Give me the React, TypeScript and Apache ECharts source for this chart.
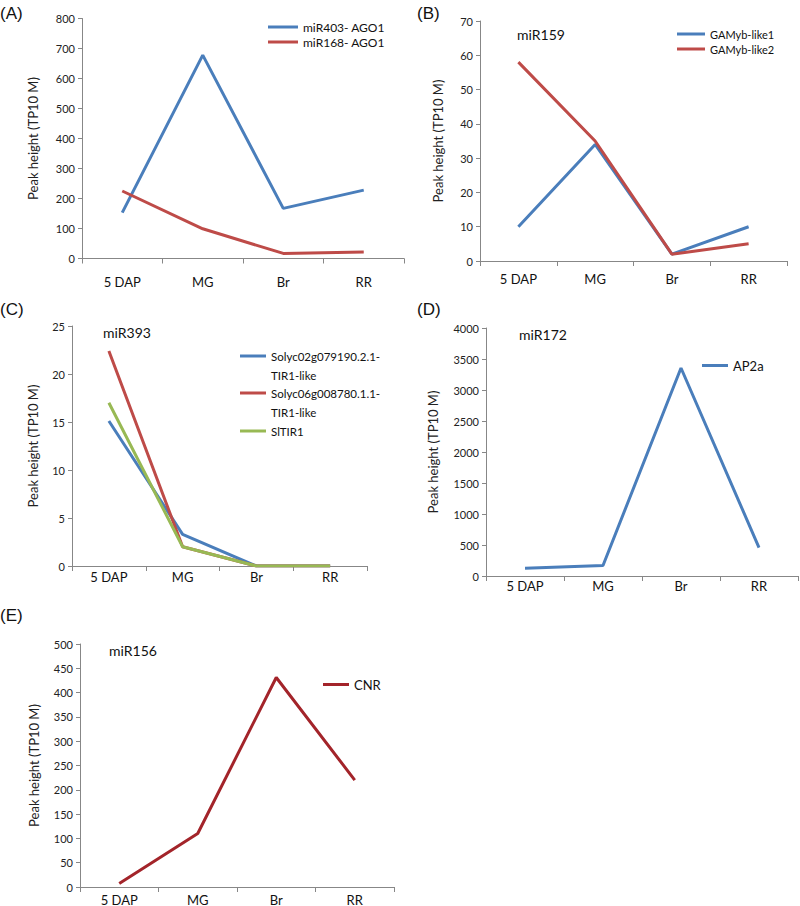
import React, { useEffect, useRef } from "react";
import * as echarts from "echarts";

const categories = ["5 DAP", "MG", "Br", "RR"];
const yAxisName = "Peak height (TP10 M)";

// (A)
const miR403AGO1 = [153, 678, 167, 228];
const miR168AGO1 = [225, 99, 17, 22];
// (B)
const gamybLike1 = [10, 34, 2, 10];
const gamybLike2 = [58, 35, 2, 5];
// (C)
const solyc02TIR1 = [15.1, 3.3, 0, 0];
const solyc06TIR1 = [22.4, 2, 0, 0];
const slTIR1 = [17, 2, 0, 0];
// (D)
const ap2a = [125, 170, 3355, 458];
// (E)
const cnr = [7, 110, 431, 220];

const panelLetters = ["(A)", "(B)", "(C)", "(D)", "(E)"];
const mirLabels = ["miR159", "miR393", "miR172", "miR156"];

const BLUE = "#4a7ebb";
const RED = "#be4b48";
const GREEN = "#98b954";
const DARKRED = "#a3242a";
const AXIS = "#878787";
const FONT = "Lato";

const C_NAME1 = "Solyc02g079190.2.1-TIR1-like";
const C_NAME2 = "Solyc06g008780.1.1-TIR1-like";
const C_DISPLAY: Record<string, string> = {
  [C_NAME1]: "\nSolyc02g079190.2.1-\nTIR1-like",
  [C_NAME2]: "\nSolyc06g008780.1.1-\nTIR1-like",
};

function xAxis(gridIndex: number, margin: number) {
  return {
    type: "category",
    gridIndex,
    data: categories,
    boundaryGap: true,
    axisLine: { show: true, lineStyle: { color: AXIS, width: 1 } },
    axisTick: { show: true, length: 5, lineStyle: { color: AXIS } },
    axisLabel: { interval: 0, margin, fontSize: 13, color: "#111", fontFamily: FONT },
    splitLine: { show: false },
  };
}

function yAxis(gridIndex: number, max: number, interval: number, nameGap: number) {
  return {
    type: "value",
    gridIndex,
    min: 0,
    max,
    interval,
    name: yAxisName,
    nameLocation: "middle",
    nameRotate: 90,
    nameGap,
    nameTextStyle: { fontSize: 13, color: "#222", fontFamily: FONT },
    axisLine: { show: true, lineStyle: { color: AXIS, width: 1 } },
    axisTick: { show: true, length: 4, lineStyle: { color: AXIS } },
    axisLabel: {
      margin: 7,
      fontSize: 11,
      color: "#222",
      fontFamily: FONT,
      formatter: (v: number) => String(v),
    },
    splitLine: { show: false },
  };
}

function line(name: string, data: number[], color: string, idx: number) {
  return {
    type: "line",
    name,
    data,
    xAxisIndex: idx,
    yAxisIndex: idx,
    symbol: "none",
    lineStyle: { color, width: 3 },
    itemStyle: { color },
  };
}

function text(t: string, x: number, y: number, size: number, family = FONT) {
  return {
    type: "text",
    x,
    y,
    style: { text: t, fontSize: size, fontFamily: family, fill: "#111", verticalAlign: "middle", align: "left" },
  };
}

function legendBase(extra: any) {
  return {
    orient: "vertical",
    padding: 0,
    icon: "rect",
    itemHeight: 3,
    selectedMode: false,
    textStyle: { fontFamily: FONT, color: "#111" },
    ...extra,
  };
}

export default function App() {
  const ref = useRef<HTMLDivElement>(null);
  useEffect(() => {
    if (!ref.current) return;
    const chart = echarts.init(ref.current, undefined, { renderer: "svg" });
    const option: any = {
      animation: false,
      backgroundColor: "#ffffff",
      grid: [
        { left: 82, top: 18.5, width: 322, height: 240 },
        { left: 480, top: 21, width: 307, height: 240 },
        { left: 72, top: 326, width: 295, height: 240 },
        { left: 486, top: 328, width: 312, height: 248 },
        { left: 80, top: 644, width: 314, height: 248 },
      ],
      xAxis: [xAxis(0, 17), xAxis(1, 11), xAxis(2, 4), xAxis(3, 3), xAxis(4, 6)],
      yAxis: [
        yAxis(0, 800, 100, 43),
        yAxis(1, 70, 10, 36),
        yAxis(2, 25, 5, 33),
        yAxis(3, 4000, 500, 47),
        yAxis(4, 500, 50, 40),
      ],
      legend: [
        legendBase({
          data: ["miR403- AGO1", "miR168- AGO1"],
          left: 268, top: 21, itemWidth: 30, itemGap: 3,
          textStyle: { fontFamily: FONT, color: "#111", fontSize: 12 },
        }),
        legendBase({
          data: ["GAMyb-like1", "GAMyb-like2"],
          left: 677, top: 28.5, itemWidth: 28, itemGap: 4,
          textStyle: { fontFamily: FONT, color: "#111", fontSize: 11 },
        }),
        legendBase({
          data: [C_NAME1],
          left: 240, top: 327.5, itemWidth: 26,
          formatter: (n: string) => C_DISPLAY[n] || n,
          textStyle: { fontFamily: FONT, color: "#111", fontSize: 11.5, lineHeight: 19 },
        }),
        legendBase({
          data: [C_NAME2],
          left: 240, top: 364.5, itemWidth: 26,
          formatter: (n: string) => C_DISPLAY[n] || n,
          textStyle: { fontFamily: FONT, color: "#111", fontSize: 11.5, lineHeight: 19 },
        }),
        legendBase({
          data: ["SlTIR1"],
          left: 240, top: 421.5, itemWidth: 26,
          textStyle: { fontFamily: FONT, color: "#111", fontSize: 11.5, lineHeight: 19 },
        }),
        legendBase({
          data: ["AP2a"],
          left: 702, top: 359, itemWidth: 26,
          textStyle: { fontFamily: FONT, color: "#111", fontSize: 13 },
        }),
        legendBase({
          data: ["CNR"],
          left: 323, top: 678, itemWidth: 26,
          textStyle: { fontFamily: FONT, color: "#111", fontSize: 13 },
        }),
      ],
      series: [
        line("miR403- AGO1", miR403AGO1, BLUE, 0),
        line("miR168- AGO1", miR168AGO1, RED, 0),
        line("GAMyb-like1", gamybLike1, BLUE, 1),
        line("GAMyb-like2", gamybLike2, RED, 1),
        line(C_NAME1, solyc02TIR1, BLUE, 2),
        line(C_NAME2, solyc06TIR1, RED, 2),
        line("SlTIR1", slTIR1, GREEN, 2),
        line("AP2a", ap2a, BLUE, 3),
        line("CNR", cnr, DARKRED, 4),
      ],
      graphic: [
        text(panelLetters[0], 0, 13, 17, "Liberation Sans"),
        text(panelLetters[1], 417, 13, 17, "Liberation Sans"),
        text(panelLetters[2], 0, 309, 17, "Liberation Sans"),
        text(panelLetters[3], 417, 309, 17, "Liberation Sans"),
        text(panelLetters[4], 0, 615, 17, "Liberation Sans"),
        text(mirLabels[0], 517, 34, 14),
        text(mirLabels[1], 103, 332, 14),
        text(mirLabels[2], 519, 334, 14),
        text(mirLabels[3], 109, 650, 14),
      ],
    };
    chart.setOption(option);
    return () => chart.dispose();
  }, []);
  return (
    <div
      ref={ref}
      style={{ position: "absolute", left: 0, top: 0, width: 800, height: 906, background: "#fff" }}
    />
  );
}
